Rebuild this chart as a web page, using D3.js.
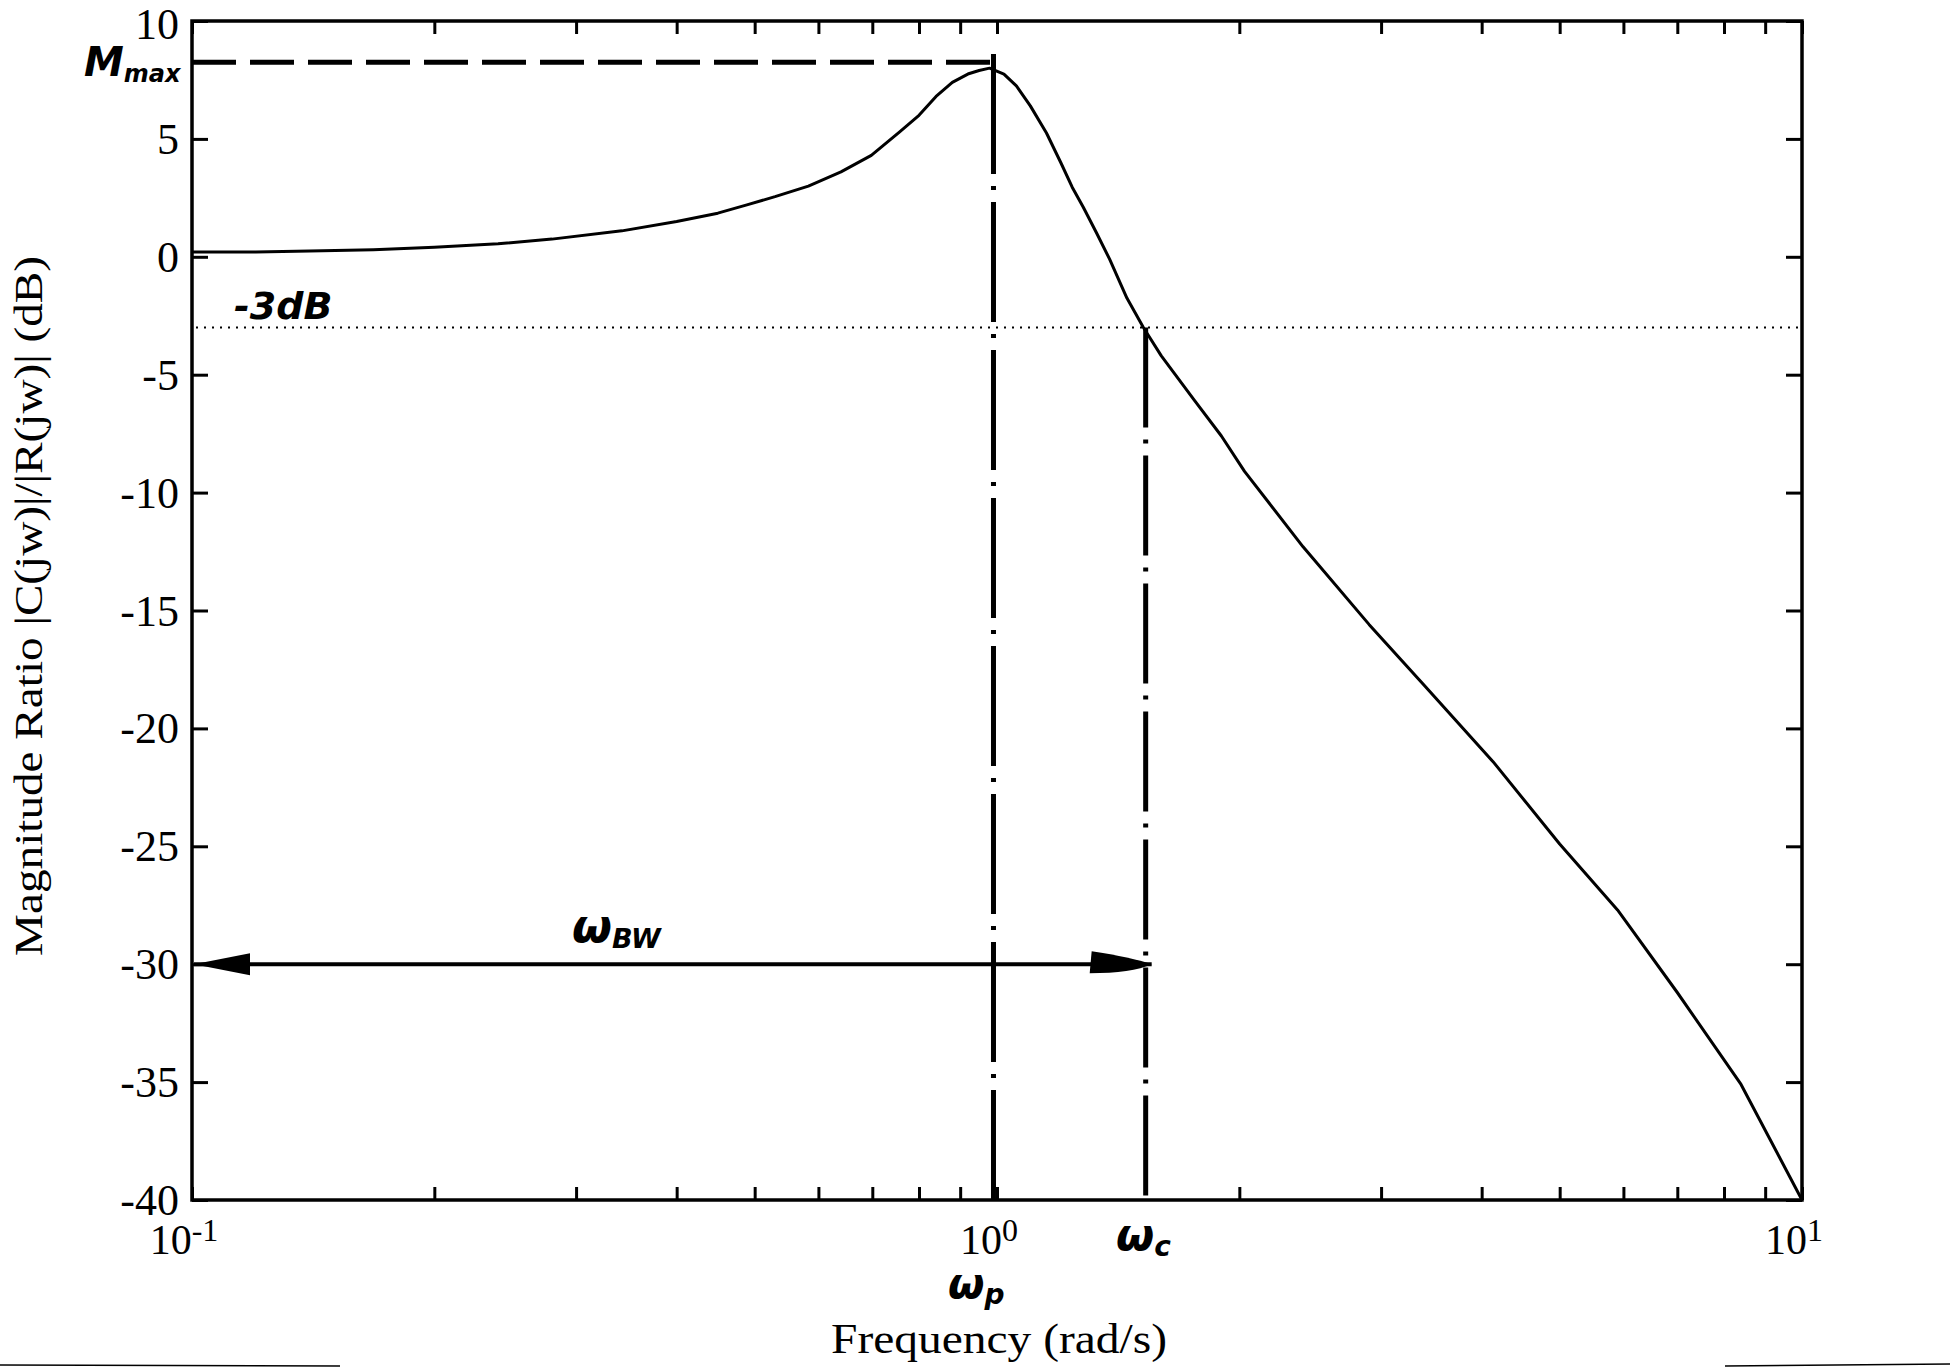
<!DOCTYPE html>
<html>
<head>
<meta charset="utf-8">
<script src="https://cdn.jsdelivr.net/npm/d3@7/dist/d3.min.js"></script>
<style>
  html, body { margin: 0; padding: 0; background: #fff; }
  svg { display: block; }
</style>
</head>
<body>
<svg id="chart" width="1950" height="1369"></svg>
<script>
// ---- data ----
const freq  = [0.1, 0.12, 0.14, 0.168, 0.2, 0.24, 0.28, 0.342, 0.4, 0.45, 0.489, 0.53, 0.583, 0.64, 0.698, 0.757, 0.8, 0.84, 0.88, 0.92, 0.95, 0.979, 1.02, 1.057, 1.1, 1.152, 1.2, 1.24, 1.28, 1.33, 1.38, 1.45, 1.52, 1.6, 1.76, 1.9, 2.03, 2.4, 2.9, 3.4, 4.13, 5.0, 5.9, 7.0, 8.4, 10];
const magDb = [0.2, 0.2, 0.25, 0.3, 0.4, 0.55, 0.75, 1.1, 1.5, 1.85, 2.2, 2.55, 3.0, 3.6, 4.3, 5.3, 6.0, 6.8, 7.4, 7.75, 7.9, 8.0, 7.75, 7.25, 6.4, 5.25, 4.0, 2.95, 2.1, 1.0, -0.1, -1.75, -3.0, -4.2, -6.1, -7.6, -9.1, -12.3, -15.6, -18.2, -21.4, -24.9, -27.7, -31.2, -35.1, -40];

const yTickValues = [10, 5, 0, -5, -10, -15, -20, -25, -30, -35, -40];
const yTickLabels = ["10", "5", "0", "-5", "-10", "-15", "-20", "-25", "-30", "-35", "-40"];
const xMajorTicks = [0.1, 1, 10];
const xMajorExponents = ["-1", "0", "1"];

const wPeak = 0.99;      // ω_p
const wCut = 1.53;       // ω_c
const mMaxDb = 8.25;     // M_max level
const peakTopDb = 8.6;   // top of ω_p marker line
const cutoffDb = -3;     // -3 dB level
const bwLevelDb = -30;   // level of the bandwidth arrow

const xLabel = "Frequency (rad/s)";
const yLabel = "Magnitude Ratio |C(jw)|/|R(jw)| (dB)";

// ---- layout ----
const svg = d3.select("#chart");
const L = 192, R = 1802, T = 21, B = 1200;
const x = d3.scaleLog().domain([0.1, 10]).range([L, R]);
const y = d3.scaleLinear().domain([-40, 10]).range([B, T]);

svg.append("rect").attr("width", 1950).attr("height", 1369).attr("fill", "#fff");

const serif = "'Liberation Serif', 'Times New Roman', serif";
const hand = "'DejaVu Sans', sans-serif";

// minor + major log ticks
const allXTicks = [];
[0.1, 1].forEach(d => { for (let k = 1; k <= 9; k++) allXTicks.push(d * k); });
allXTicks.push(10);

const g = svg.append("g");

const tickLen = 13;
const bottomAxis = d3.axisBottom(x).tickValues(allXTicks).tickSize(-tickLen).tickFormat("");
const topAxis = d3.axisTop(x).tickValues(allXTicks).tickSize(-tickLen).tickFormat("");
const leftAxis = d3.axisLeft(y).tickValues(yTickValues).tickSize(-16).tickFormat("");
const rightAxis = d3.axisRight(y).tickValues(yTickValues).tickSize(-16).tickFormat("");

function styleAxis(sel) {
  sel.selectAll("path.domain").remove();
  sel.selectAll("line").attr("stroke", "#000").attr("stroke-width", 3);
}
g.append("g").attr("transform", `translate(0,${B})`).call(bottomAxis).call(styleAxis);
g.append("g").attr("transform", `translate(0,${T})`).call(topAxis).call(styleAxis);
g.append("g").attr("transform", `translate(${L},0)`).call(leftAxis).call(styleAxis);
g.append("g").attr("transform", `translate(${R},0)`).call(rightAxis).call(styleAxis);

// frame
g.append("rect").attr("x", L).attr("y", T).attr("width", R - L).attr("height", B - T)
  .attr("fill", "none").attr("stroke", "#000").attr("stroke-width", 3.5);

// y tick labels
g.selectAll("text.ylab").data(yTickValues).enter().append("text")
  .attr("class", "ylab")
  .attr("x", L - 13).attr("y", d => d === 10 ? y(d) + 18 : y(d) + 15)
  .attr("text-anchor", "end")
  .attr("font-family", serif).attr("font-size", 44).attr("fill", "#000")
  .text((d, i) => yTickLabels[i]);

// x tick labels 10^n
const xl = g.selectAll("text.xlab").data(xMajorTicks).enter().append("text")
  .attr("class", "xlab")
  .attr("x", d => x(d) - 8).attr("y", 1254)
  .attr("text-anchor", "middle")
  .attr("font-family", serif).attr("font-size", 42).attr("fill", "#000");
xl.append("tspan").text("10");
xl.append("tspan").attr("font-size", 32).attr("dy", -13).text((d, i) => xMajorExponents[i]);

// axis titles
svg.append("text").attr("x", 999).attr("y", 1353).attr("text-anchor", "middle")
  .attr("font-family", serif).attr("font-size", 42).attr("fill", "#000")
  .attr("textLength", 336).attr("lengthAdjust", "spacingAndGlyphs").text(xLabel);
svg.append("text").attr("transform", "translate(42,606) rotate(-90)").attr("text-anchor", "middle")
  .attr("font-family", serif).attr("font-size", 41).attr("fill", "#000")
  .attr("textLength", 700).attr("lengthAdjust", "spacingAndGlyphs").text(yLabel);

// -3 dB dotted line
g.append("line").attr("x1", x(0.1) + 4).attr("x2", x(10) - 2)
  .attr("y1", y(cutoffDb)).attr("y2", y(cutoffDb))
  .attr("stroke", "#000").attr("stroke-width", 2).attr("stroke-dasharray", "2,6");

// M_max dashed line
g.append("line").attr("x1", x(0.1)).attr("x2", x(wPeak))
  .attr("y1", y(mMaxDb)).attr("y2", y(mMaxDb))
  .attr("stroke", "#000").attr("stroke-width", 5).attr("stroke-dasharray", "44,14");

// vertical dash-dot markers
g.append("line").attr("x1", x(wPeak)).attr("x2", x(wPeak))
  .attr("y1", y(peakTopDb)).attr("y2", y(-40))
  .attr("stroke", "#000").attr("stroke-width", 5).attr("stroke-dasharray", "120,12,4,12");
g.append("line").attr("x1", x(wCut)).attr("x2", x(wCut))
  .attr("y1", y(cutoffDb)).attr("y2", y(-40) + 6)
  .attr("stroke", "#000").attr("stroke-width", 5).attr("stroke-dasharray", "100,12,4,12");

// magnitude curve
const line = d3.line().x((d, i) => x(freq[i])).y((d, i) => y(magDb[i]));
g.append("path").attr("d", line(freq)).attr("fill", "none")
  .attr("stroke", "#000").attr("stroke-width", 3).attr("stroke-linejoin", "round");

// bandwidth arrow
const ay = y(bwLevelDb);
const ax1 = x(0.1) + 2, ax2 = x(wCut) + 6;
g.append("line").attr("x1", ax1).attr("x2", ax2).attr("y1", ay).attr("y2", ay)
  .attr("stroke", "#000").attr("stroke-width", 4);
g.append("path")
  .attr("d", `M${ax1},${ay} L${ax1 + 56},${ay - 11} L${ax1 + 56},${ay + 11} Z`)
  .attr("fill", "#000");
g.append("path")
  .attr("d", `M${ax2},${ay} Q${ax2 - 20},${ay - 7} ${ax2 - 60},${ay - 13} L${ax2 - 62},${ay + 9} Q${ax2 - 20},${ay + 9} ${ax2},${ay} Z`)
  .attr("fill", "#000");

// hand-written style annotations
function handText(px, py, main, sub, size, subSize) {
  const t = svg.append("text").attr("x", px).attr("y", py)
    .attr("font-family", hand).attr("font-weight", "bold").attr("font-style", "italic")
    .attr("font-size", size).attr("fill", "#000");
  t.append("tspan").text(main);
  if (sub) t.append("tspan").attr("font-size", subSize).attr("dy", 6).text(sub);
  return t;
}
handText(84, 76, "M", "max", 40, 24);
handText(234, 319, "-3dB", null, 38);
handText(572, 942, "ω", "BW", 46, 27);
handText(1116, 1250, "ω", "c", 44, 28);
handText(948, 1298, "ω", "p", 42, 28);

// scan edge lines at the bottom
svg.append("line").attr("x1", 0).attr("x2", 340).attr("y1", 1365).attr("y2", 1366)
  .attr("stroke", "#000").attr("stroke-width", 1.5);
svg.append("line").attr("x1", 1725).attr("x2", 1950).attr("y1", 1366).attr("y2", 1364)
  .attr("stroke", "#000").attr("stroke-width", 1.5);
</script>
</body>
</html>
